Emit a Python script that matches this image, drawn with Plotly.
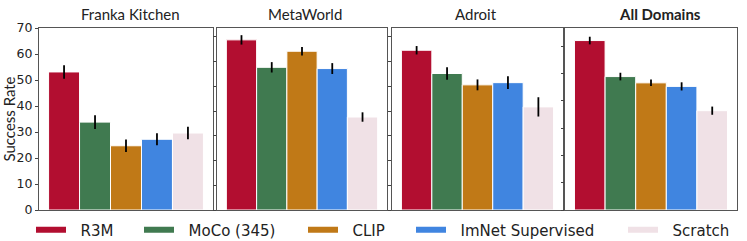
import plotly.graph_objects as go

domains = ["Franka Kitchen", "MetaWorld", "Adroit", "All Domains"]
methods = ["R3M", "MoCo (345)", "CLIP", "ImNet Supervised", "Scratch"]
colors = ["#B20E30", "#407A50", "#C07917", "#4085E0", "#F0E1E6"]

# success rate per method, one list per domain
values = {
    "Franka Kitchen": [53.1, 33.8, 24.7, 27.2, 29.6],
    "MetaWorld":      [68.8, 57.7, 64.2, 57.2, 37.6],
    "Adroit":         [64.6, 55.2, 50.6, 51.5, 41.7],
    "All Domains":    [62.1, 48.9, 46.6, 45.3, 36.4],
}
errors = {
    "Franka Kitchen": [2.6, 2.6, 2.4, 2.3, 2.4],
    "MetaWorld":      [1.9, 2.1, 1.7, 2.2, 1.9],
    "Adroit":         [1.7, 2.5, 2.2, 2.6, 3.9],
    "All Domains":    [1.4, 1.4, 1.2, 1.5, 1.5],
}
y_max = [70, 73.6, 73.6, 66.7]
title_x = [130, 305, 476, 660]
legend_x = [36, 144, 308, 416, 628]

W, H = 747, 241
ML, MR, MT, MB = 39, 10, 28, 31
PW = W - ML - MR
PH = H - MT - MB
px_domains = [(39, 213), (217, 387), (392, 563), (565, 737)]

fig = go.Figure()
for d_i, dom in enumerate(domains):
    ax = "" if d_i == 0 else str(d_i + 1)
    for m_i, m in enumerate(methods):
        fig.add_trace(go.Bar(
            x=[dom], y=[values[dom][m_i]],
            error_y=dict(type="data", array=[errors[dom][m_i]], color="black",
                         thickness=1.8, width=0),
            marker=dict(color=colors[m_i], line=dict(color="white", width=1)),
            name=m, showlegend=False, offsetgroup=str(m_i),
            xaxis="x" + ax, yaxis="y" + ax,
        ))

# legend entries
for m_i, m in enumerate(methods):
    lg = "legend" if m_i == 0 else "legend" + str(m_i + 1)
    fig.add_trace(go.Scatter(
        x=[None], y=[None], mode="lines", name="\u00a0\u00a0" + m,
        line=dict(color=colors[m_i], width=6),
        showlegend=True, legend=lg,
    ))

layout = dict(
    width=W, height=H,
    margin=dict(l=ML, r=MR, t=MT, b=MB, autoexpand=False),
    plot_bgcolor="white", paper_bgcolor="white",
    barmode="group", bargap=0.11, bargroupgap=0,
    font=dict(family="DejaVu Sans", size=13, color="#222"),
    showlegend=True,
)
for d_i in range(4):
    ax = "" if d_i == 0 else str(d_i + 1)
    a, b = px_domains[d_i]
    dom = [(a - ML) / PW, min(1.0, (b - ML) / PW)]
    layout["xaxis" + ax] = dict(
        domain=dom, showticklabels=False, ticks="", showgrid=False,
        showline=True, mirror=True, linecolor="#555", linewidth=1.3,
        anchor="y" + ax, zeroline=False,
    )
    layout["yaxis" + ax] = dict(
        range=[0, y_max[d_i]], dtick=10, tick0=0, showgrid=False,
        showline=True, mirror=True, linecolor="#555", linewidth=1.3,
        ticks="outside", ticklen=3, tickwidth=1, tickcolor="#444",
        showticklabels=(d_i == 0), anchor="x" + ax, zeroline=False,
        tickfont=dict(family="DejaVu Sans", size=12.5, color="#222"),
    )
layout["yaxis"]["title"] = dict(text="Success Rate",
                                font=dict(family="Lato", size=15, color="#222"),
                                standoff=1)

legend_y = (H - MB - 230) / PH
for m_i in range(5):
    lg = "legend" if m_i == 0 else "legend" + str(m_i + 1)
    layout[lg] = dict(
        x=(legend_x[m_i] - 5 - ML) / PW, xanchor="left",
        y=legend_y, yanchor="middle", orientation="h",
        font=dict(family="DejaVu Sans", size=15, color="#222"),
        bgcolor="rgba(0,0,0,0)", borderwidth=0,
        itemwidth=30,
    )

annotations = []
for d_i, dom in enumerate(domains):
    txt = "<b>" + dom + "</b>" if dom == "All Domains" else dom
    annotations.append(dict(
        text=txt, x=(title_x[d_i] - ML) / PW, y=1.0, xref="paper", yref="paper",
        xanchor="center", yanchor="bottom", yshift=3, showarrow=False,
        font=dict(family="Lato", size=15, color="#222"),
    ))
layout["annotations"] = annotations

fig.update_layout(**layout)
fig.write_html("out.html", config={"displayModeBar": False},
               post_script="document.body.style.margin='0';document.body.style.padding='0';")
